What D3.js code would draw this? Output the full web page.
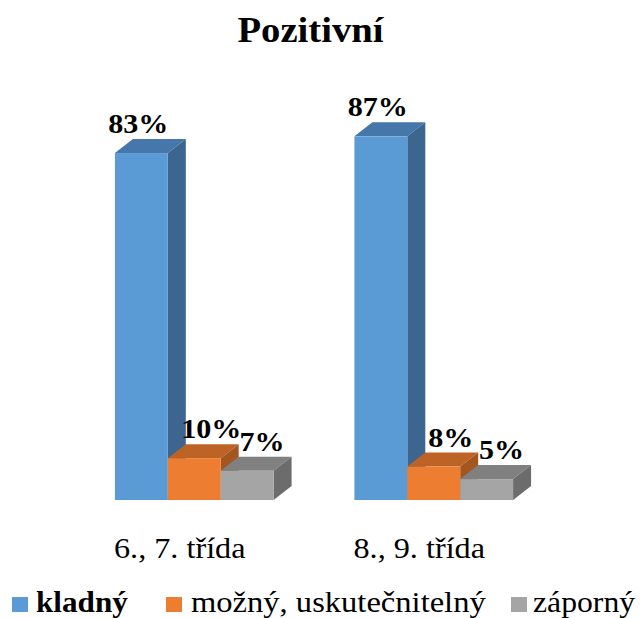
<!DOCTYPE html>
<html>
<head>
<meta charset="utf-8">
<script src="https://cdn.jsdelivr.net/npm/d3@7"></script>
<style>
  body { margin: 0; background: #fff; }
</style>
</head>
<body>
<div id="chart"></div>
<script>
var categories = ['6., 7. třída', '8., 9. třída'];
var seriesNames = ['kladný', 'možný, uskutečnitelný', 'záporný'];
var kladny = [83, 87];
var mozny = [10, 8];
var zaporny = [7, 5];
var values = [kladny, mozny, zaporny];

var width = 644, height = 618;
var depthX = 18, depthY = 14;
var stretch = 1.075; // the source text is a bit wider than plain Times

// front, top, side for each series
var colors = [
  { front: '#5b9bd5', top: '#4677aa', side: '#3c6590' },
  { front: '#ed7d31', top: '#bd6326', side: '#a4561f' },
  { front: '#a5a5a5', top: '#808080', side: '#6c6c6c' }
];
var labelShift = [-3, 17, 15];
var legendX = [12, 166, 511];
var legendGap = [24, 25, 22];

var svg = d3.select('#chart').append('svg')
  .attr('width', width)
  .attr('height', height)
  .attr('font-family', 'Liberation Serif');

function addText(parent, x, y, str, size, weight, anchor) {
  return parent.append('text')
    .attr('transform', 'translate(' + x + ',' + y + ') scale(' + stretch + ',1)')
    .attr('text-anchor', anchor || 'start')
    .attr('font-family', 'Liberation Serif')
    .attr('font-size', size)
    .attr('font-weight', weight || 'normal')
    .attr('fill', '#000')
    .text(str);
}

addText(svg, 310.5, 42, 'Pozitivní', 36, 'bold', 'middle');

var x0 = d3.scaleBand()
  .domain(categories)
  .range([74.5, 553.5])
  .paddingInner(0.3375)
  .paddingOuter(0.16875);

var x1 = d3.scaleBand()
  .domain(d3.range(seriesNames.length))
  .range([0, x0.bandwidth()]);

var y = d3.scaleLinear().domain([0, 100]).range([500, 82]);

var bars = [];
categories.forEach(function (cat, ci) {
  values.forEach(function (vals, si) {
    bars.push({ cat: cat, s: si, v: vals[ci] });
  });
});

var g = svg.selectAll('.bar').data(bars).enter().append('g').attr('class', 'bar');

g.each(function (d) {
  var el = d3.select(this);
  var x = x0(d.cat) + x1(d.s);
  var w = x1.bandwidth();
  var top = y(d.v);
  var bottom = y(0);
  var c = colors[d.s];

  el.append('path')
    .attr('d', 'M' + x + ',' + top + 'L' + (x + depthX) + ',' + (top - depthY) +
      'L' + (x + w + depthX) + ',' + (top - depthY) + 'L' + (x + w) + ',' + top + 'Z')
    .attr('fill', c.top);
  el.append('path')
    .attr('d', 'M' + (x + w) + ',' + top + 'L' + (x + w + depthX) + ',' + (top - depthY) +
      'L' + (x + w + depthX) + ',' + (bottom - depthY) + 'L' + (x + w) + ',' + bottom + 'Z')
    .attr('fill', c.side);
  el.append('rect')
    .attr('x', x)
    .attr('y', top)
    .attr('width', w)
    .attr('height', bottom - top)
    .attr('fill', c.front);

  addText(el, x + w / 2 + labelShift[d.s], top - depthY - 6, d.v + '%', 28, 'bold', 'middle');
});

categories.forEach(function (cat) {
  addText(svg, x0(cat) + x0.bandwidth() / 2 - 14.5, 558, cat, 30, 'normal', 'middle');
});

// legend
var legend = svg.append('g').attr('class', 'legend');
seriesNames.forEach(function (name, i) {
  legend.append('rect')
    .attr('x', legendX[i])
    .attr('y', 597)
    .attr('width', 16)
    .attr('height', 15)
    .attr('fill', colors[i].front);
  addText(legend, legendX[i] + legendGap[i], 612, name,
    i === 0 ? 29 : (i === 1 ? 30.3 : 29.5), i === 0 ? 'bold' : 'normal');
});
</script>
</body>
</html>
